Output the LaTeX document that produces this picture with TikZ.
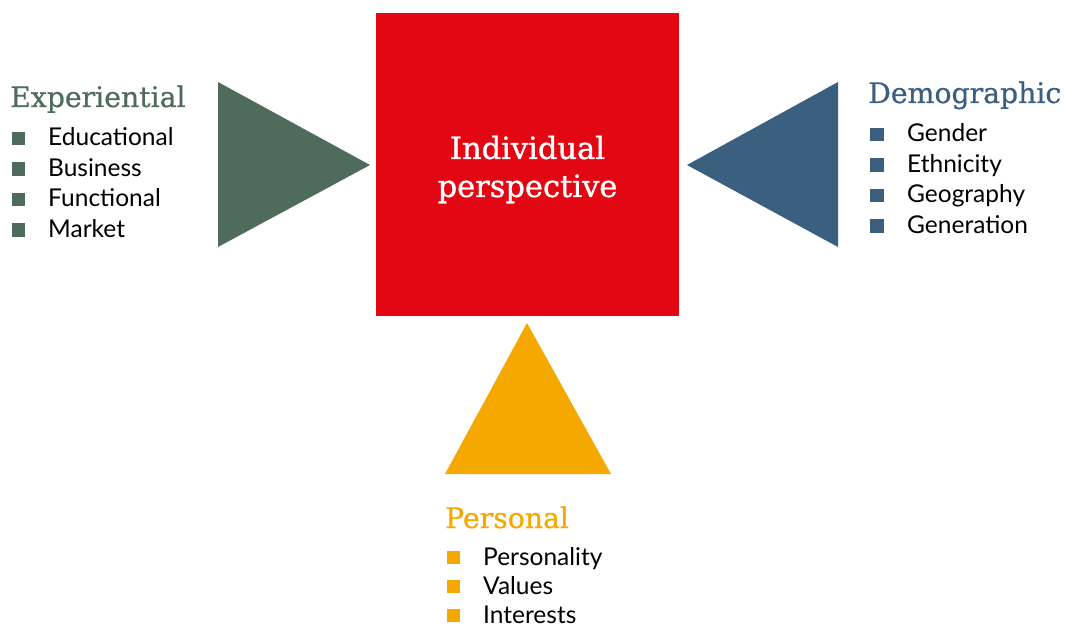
\documentclass[tikz,border=0pt]{standalone}
\usepackage{fontspec}
\setmainfont{Lato}
\newfontfamily\titlefont[FakeBold=0.6]{DejaVu Serif}
\newfontfamily\centrefont[FakeBold=1.1]{DejaVu Serif}
\definecolor{cgreen}{HTML}{4E6B5C}
\definecolor{cblue}{HTML}{3A5F7F}
\definecolor{cred}{HTML}{E30613}
\definecolor{corange}{HTML}{F5A800}
\begin{document}
\begin{tikzpicture}[x=1pt,y=-1pt,
  title/.style={anchor=base west,inner sep=0pt,font=\titlefont\fontsize{28.3}{32}\selectfont},
  item/.style={anchor=base west,inner sep=0pt,font=\fontsize{24.5}{28}\selectfont,text=black},
  bullet/.style={fill=#1,minimum size=13.5pt,inner sep=0pt,anchor=center}]
\useasboundingbox (0,0) rectangle (1067,628);
\fill[white] (0,0) rectangle (1067,628);
% centre square
\node[fill=cred,minimum size=303pt,inner sep=0pt] (centre) at (527.5,164.5) {};
\node[text=white,align=center,inner sep=0pt,font=\centrefont\fontsize{30.5}{38}\selectfont] (ctext) at (527.5,169.5) {Individual\\perspective};
% triangles
\fill[cgreen] (218,82) -- (218,247) -- (370,165) -- cycle;
\fill[cblue] (838,82) -- (838,247) -- (687,165) -- cycle;
\fill[corange] (527,323) -- (611,474) -- (445,474) -- cycle;
% Experiential
\node[title,text=cgreen] (t1) at (10,107) {Experiential};
\foreach \t/\y [count=\i] in {Educational/146,Business/176.5,Functional/207,Market/237.5}{
  \node[bullet=cgreen] (b1\i) at (18.5,\y-7.5) {};
  \node[item] (i1\i) at (48,\y) {\t};
}
% Demographic
\node[title,text=cblue] (t2) at (868,103) {Demographic};
\foreach \t/\y [count=\i] in {Gender/142,Ethnicity/172.5,Geography/203,Generation/233.5}{
  \node[bullet=cblue] (b2\i) at (877,\y-7.5) {};
  \node[item] (i2\i) at (907,\y) {\t};
}
% Personal
\node[title,text=corange] (t3) at (445,528) {Personal};
\foreach \t/\y [count=\i] in {Personality/565,Values/594,Interests/623}{
  \node[bullet=corange] (b3\i) at (453.5,\y-7.5) {};
  \node[item] (i3\i) at (483,\y) {\t};
}
\end{tikzpicture}
\end{document}
